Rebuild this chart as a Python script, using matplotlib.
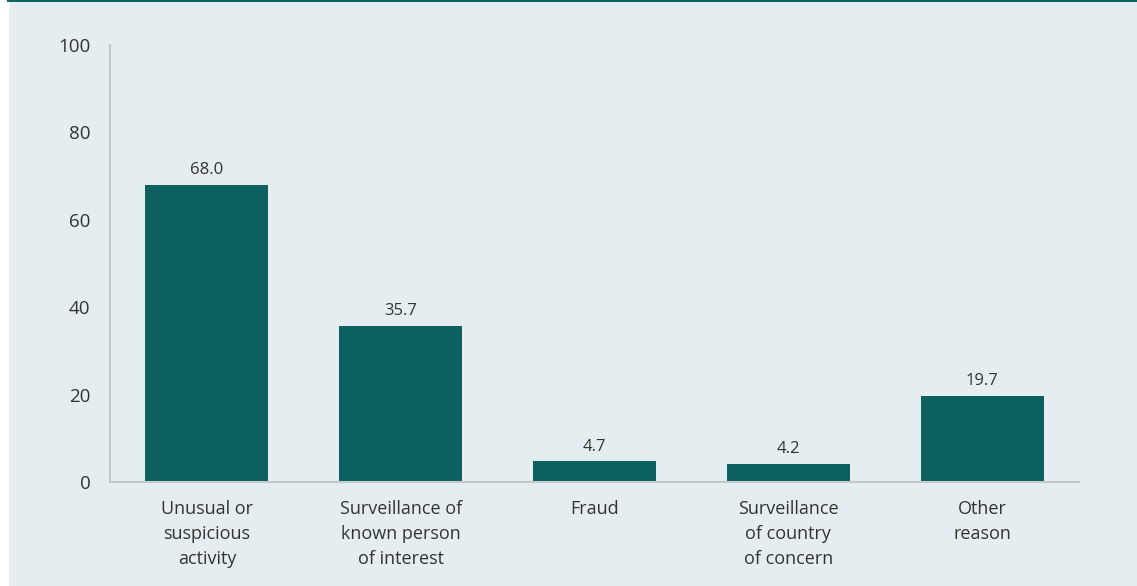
import matplotlib
matplotlib.use("Agg")
import matplotlib.pyplot as plt
from matplotlib.lines import Line2D

categories = ["Unusual or\nsuspicious\nactivity", "Surveillance of\nknown person\nof interest", "Fraud",
              "Surveillance\nof country\nof concern", "Other\nreason"]
values = [68.0, 35.7, 4.7, 4.2, 19.7]
yticks = [0, 20, 40, 60, 80, 100]

plt.rcParams['font.family'] = ['Open Sans', 'DejaVu Sans']
bg = "#e4eef0"
bar_c = "#0d6060"
txt = "#333333"

fig = plt.figure(figsize=(11.37, 5.86), dpi=100)
fig.patch.set_facecolor(bg)
ax = fig.add_axes([110/1137, 104/586, 969/1137, 437/586])
ax.set_facecolor(bg)

x = list(range(len(categories)))
bars = ax.bar(x, values, width=0.635, color=bar_c, zorder=2)
for b, v in zip(bars, values):
    ax.text(b.get_x() + b.get_width()/2, v + 1.5, f"{v:.1f}", ha="center", va="bottom",
            fontsize=12, color=txt)

ax.set_xlim(-0.5, len(categories) - 0.5)
ax.set_ylim(0, 100)
ax.set_yticks(yticks)
ax.set_yticklabels([str(t) for t in yticks], fontsize=13.5, color=txt)
ax.set_xticks(x)
ax.set_xticklabels(categories, fontsize=13, color=txt, linespacing=1.5)
ax.tick_params(axis="both", length=0)
ax.tick_params(axis="y", pad=14)
ax.tick_params(axis="x", pad=13)
for s in ["top", "right"]:
    ax.spines[s].set_visible(False)
for s in ["left", "bottom"]:
    ax.spines[s].set_color("#c4c8c8")
    ax.spines[s].set_linewidth(1.5)

fig.add_artist(Line2D([8/1137, 1], [1 - 1/586, 1 - 1/586], transform=fig.transFigure,
                      color="#0d6060", linewidth=1.4))
fig.add_artist(plt.Rectangle((0, 0), 8/1137, 1, transform=fig.transFigure, color="white", zorder=0))

fig.savefig("out.png", dpi=100, facecolor=bg)
